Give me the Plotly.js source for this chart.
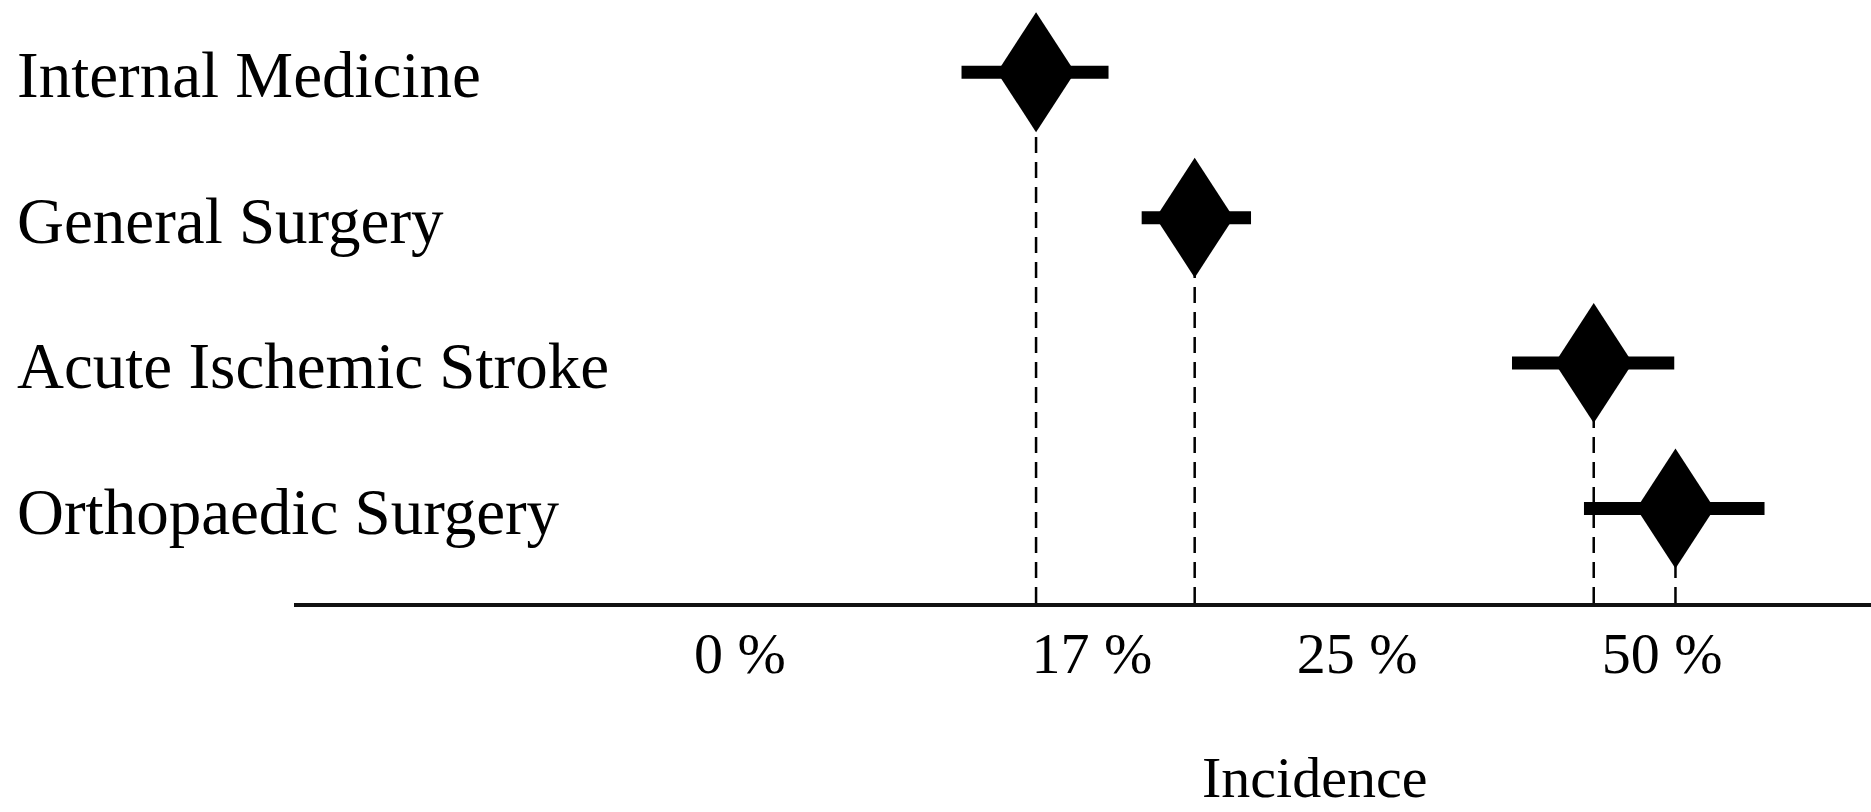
<!DOCTYPE html>
<html><head><meta charset="utf-8">
<script src="https://cdn.plot.ly/plotly-3.0.1.min.js"></script>
<style>html,body{margin:0;padding:0;background:#fff}#chart{width:1871px;height:812px}</style>
</head><body><div id="chart"></div>
<script>
// ---- data ----
const categories = ['Internal Medicine', 'General Surgery', 'Acute Ischemic Stroke', 'Orthopaedic Surgery'];
const incidence = [14.3, 20.1, 44.4, 51.1];
const ciLow = [10.7, 18.5, 37.7, 43.6];
const ciHigh = [17.5, 21.8, 51.0, 58.4];
const tickValues = [0, 17, 25, 50];
const tickLabels = ['0 %', '17 %', '25 %', '50 %'];
const axisTitle = 'Incidence';

// ---- layout: the printed axis is not linear; anchor each tick value to its place on the axis ----
const tickFrac = [0.2828, 0.5060, 0.6741, 0.8675];
function xScale(p) {
  let i = 0;
  if (p >= tickValues[tickValues.length - 1]) i = tickValues.length - 2;
  else if (p > tickValues[0]) { while (p > tickValues[i + 1]) i++; }
  const t = (p - tickValues[i]) / (tickValues[i + 1] - tickValues[i]);
  return tickFrac[i] + t * (tickFrac[i + 1] - tickFrac[i]);
}

const FONT = 'Liberation Serif, Times New Roman, serif';
const yIdx = categories.map((_, i) => i);
const yRange = [3.649, -0.496];
const xPos = incidence.map(xScale);

const traces = [];
// dashed drop lines from each estimate to the axis
incidence.forEach((v, i) => {
  traces.push({
    type: 'scatter', mode: 'lines', x: [xScale(v), xScale(v)], y: [yRange[0], yIdx[i]],
    line: {color: '#000', width: 2.5, dash: '16px,9px'}, hoverinfo: 'skip', showlegend: false
  });
});
// estimate with interval bars
traces.push({
  type: 'scatter', mode: 'markers', x: xPos, y: yIdx, text: categories,
  marker: {symbol: 'diamond-tall', size: 84, color: '#000'},
  error_x: {
    type: 'data', symmetric: false,
    array: ciHigh.map((h, i) => xScale(h) - xPos[i]),
    arrayminus: ciLow.map((l, i) => xPos[i] - xScale(l)),
    thickness: 13, width: 0, color: '#000'
  },
  showlegend: false, cliponaxis: false
});

// tall diamonds anchored at each estimate
const shapes = incidence.map((v, i) => ({
  type: 'path', layer: 'above', xref: 'x', yref: 'y',
  xsizemode: 'pixel', ysizemode: 'pixel', xanchor: xScale(v), yanchor: yIdx[i],
  path: 'M0,60 L39,0 L0,-60 L-39,0 Z',
  fillcolor: '#000', line: {width: 0}
}));

const annotations = categories.map((c, i) => ({
  text: c, xref: 'paper', yref: 'y', x: -0.1769, y: yIdx[i], xanchor: 'left', yanchor: 'middle',
  yshift: -3, showarrow: false, font: {family: FONT, size: 65, color: '#000'}
}));
annotations.push({
  text: axisTitle, xref: 'paper', yref: 'paper', x: 0.6468, y: -0.2886, xanchor: 'center', yanchor: 'middle',
  showarrow: false, borderpad: 0, font: {family: FONT, size: 58, color: '#000'}
});

const layout = {
  width: 1871, height: 812,
  margin: {l: 294, r: 0, t: 0, b: 209, pad: 0},
  paper_bgcolor: '#fff', plot_bgcolor: '#fff',
  showlegend: false,
  font: {family: FONT, color: '#000'},
  xaxis: {
    range: [0, 1], showgrid: false, zeroline: false,
    showline: true, linecolor: '#111', linewidth: 4,
    tickmode: 'array', tickvals: tickValues.map(xScale), ticktext: tickLabels,
    ticks: '', tickfont: {family: FONT, size: 58, color: '#000'}, ticklabelstandoff: -4,
    fixedrange: true
  },
  yaxis: {
    range: yRange, showgrid: false, zeroline: false, showline: false,
    showticklabels: false, ticks: '', fixedrange: true
  },
  shapes: shapes,
  annotations: annotations
};

Plotly.newPlot('chart', traces, layout, {displayModeBar: false, staticPlot: true});
</script>
</body></html>
